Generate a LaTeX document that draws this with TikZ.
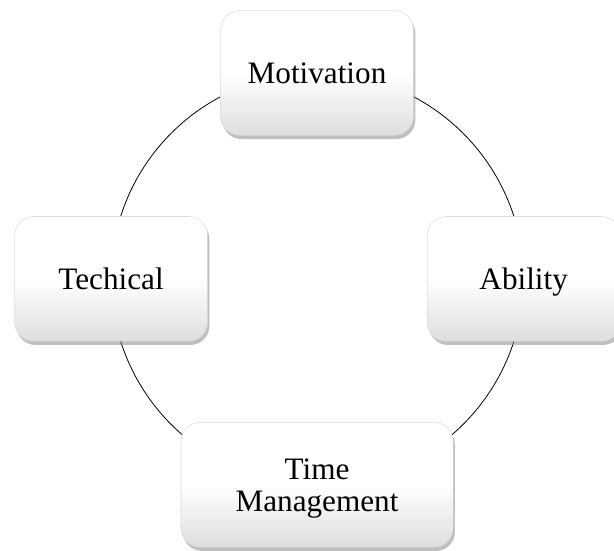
\documentclass[tikz,border=0pt]{standalone}
\usepackage{fontspec}
\setmainfont{Liberation Serif}
\usetikzlibrary{positioning, shadows, backgrounds}

\tikzset{
  factor/.style={rectangle, rounded corners=0.5cm, minimum width=5.1cm, minimum height=3.3cm, align=center,
    draw=black!14, line width=0.4pt,
    top color=white, bottom color=black!13, middle color=white,
    drop shadow={shadow xshift=0.05cm, shadow yshift=-0.1cm, opacity=0.5},
    text depth=0pt, font=\fontsize{23.5}{24}\selectfont},
  ring/.style={line width=0.6pt},
}

\begin{document}
\begin{tikzpicture}
\useasboundingbox (-8.39,-7.20) rectangle (7.86,7.38);
\coordinate (hub) at (0,0);

\node[factor] (motiv) at (0,5.45) {Motivation};
\node[factor] (abil) at (5.47,0) {Ability};
\node[factor, minimum width=7.2cm] (timem) at (0,-5.45) {Time\\Management};
\node[factor] (tech) at (-5.45,0) {Techical};

% ring behind the boxes
\begin{scope}[on background layer]
\draw[ring] (motiv.center) to[bend left=45] (abil.center);
\draw[ring] (abil.center) to[bend left=45] (timem.center);
\draw[ring] (timem.center) to[bend left=45] (tech.center);
\draw[ring] (tech.center) to[bend left=45] (motiv.center);
\end{scope}
\end{tikzpicture}
\end{document}
